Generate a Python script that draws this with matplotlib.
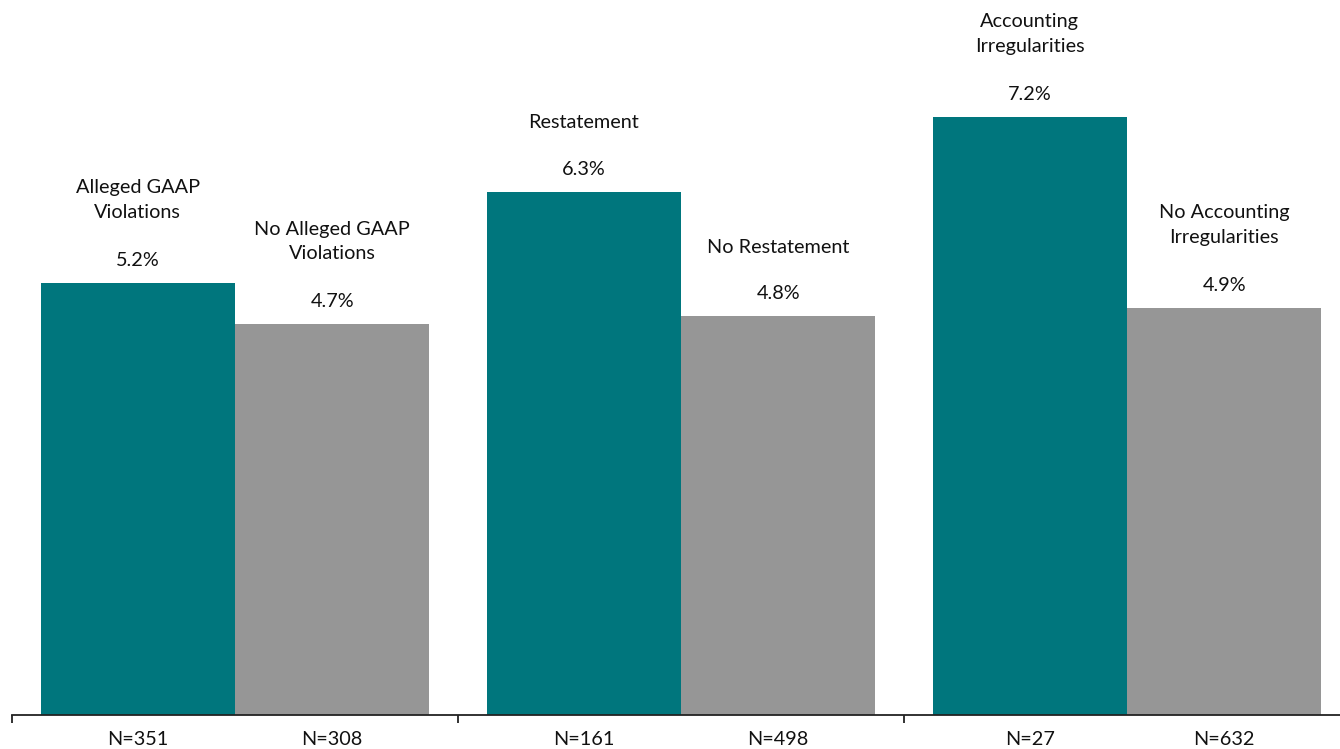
import numpy as np
import matplotlib.pyplot as plt

plt.rcParams['font.family'] = ['Lato', 'DejaVu Sans']

# ----- Datos -----
labels_si = ['Alleged GAAP\nViolations', 'Restatement', 'Accounting\nIrregularities']
labels_no = ['No Alleged GAAP\nViolations', 'No Restatement', 'No Accounting\nIrregularities']
valores_si = [5.2, 6.3, 7.2]
valores_no = [4.7, 4.8, 4.9]
n_si = ['N=351', 'N=161', 'N=27']
n_no = ['N=308', 'N=498', 'N=632']

color_si = '#00767D'
color_no = '#969696'
color_txt = '#111111'

# ----- Figura -----
fig = plt.figure(figsize=(13.4, 7.49), dpi=100)
# el eje llega un poco mas alla del borde derecho, como en el original
ax = fig.add_axes([12 / 1340, 34.5 / 749, 1338 / 1340, 664 / 749])

x = np.arange(len(valores_si))
ancho = 0.436
ax.bar(x - ancho / 2, valores_si, ancho, color=color_si)
ax.bar(x + ancho / 2, valores_no, ancho, color=color_no)

ax.set_xlim(-0.5, 2.5)
ax.set_ylim(0, 8)

px = 72 / 100  # puntos por pixel
fs = 14.3

def etiquetar(xs, vals, cats):
    for xi, v, c in zip(xs, vals, cats):
        ax.annotate(f'{v:.1f}%', (xi, v), xytext=(0, 22.5 * px), textcoords='offset points',
                    ha='center', va='center', fontsize=fs, color=color_txt)
        nlin = c.count('\n') + 1
        ax.annotate(c, (xi, v), xytext=(0, (69 + 14 * (nlin - 1)) * px), textcoords='offset points',
                    ha='center', va='center', fontsize=fs, color=color_txt,
                    linespacing=1.55, multialignment='center')

etiquetar(x - ancho / 2, valores_si, labels_si)
etiquetar(x + ancho / 2, valores_no, labels_no)

# etiquetas N=... debajo del eje
for xi, a, b in zip(x, n_si, n_no):
    ax.annotate(a, (xi - ancho / 2, 0), xytext=(0, -25 * px), textcoords='offset points',
                ha='center', va='center', fontsize=fs, color=color_txt, annotation_clip=False)
    ax.annotate(b, (xi + ancho / 2, 0), xytext=(0, -25 * px), textcoords='offset points',
                ha='center', va='center', fontsize=fs, color=color_txt, annotation_clip=False)

for s in ['top', 'right', 'left']:
    ax.spines[s].set_visible(False)
ax.spines['bottom'].set_color('#222222')
ax.spines['bottom'].set_linewidth(1.3)
ax.set_yticks([])
ax.set_xticks([-0.5, 0.5, 1.5, 2.5])
ax.set_xticklabels([])
ax.tick_params(axis='x', length=6, width=1.3, color='#222222')

fig.savefig('out.png', dpi=100)
